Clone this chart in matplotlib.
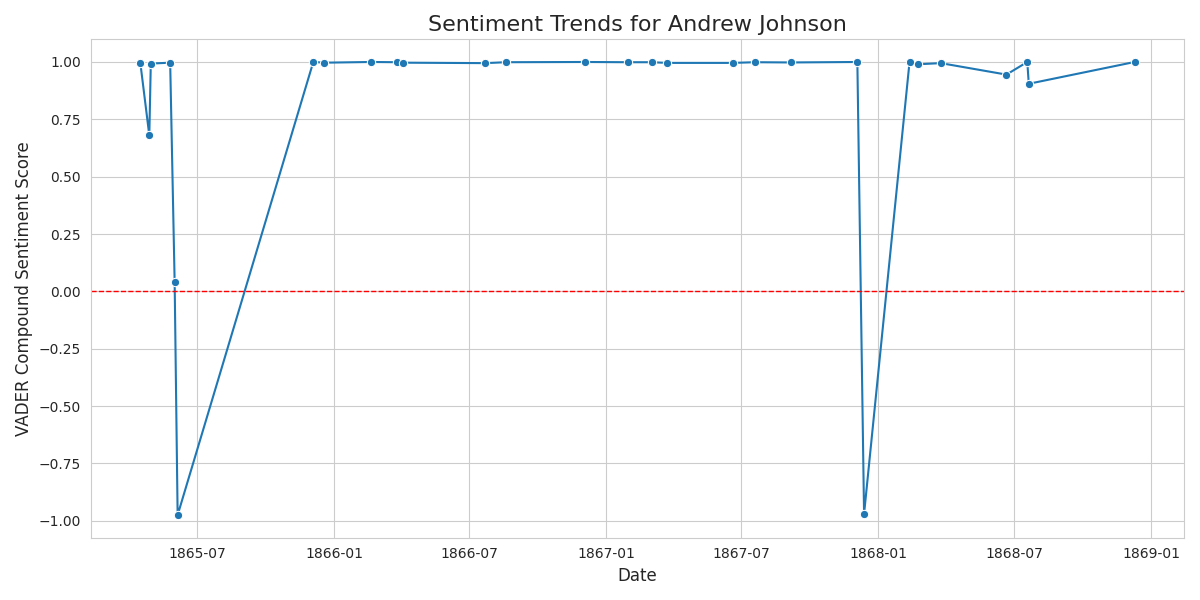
import pandas as pd
import matplotlib
matplotlib.use("Agg")
import matplotlib.pyplot as plt
import matplotlib.dates as mdates
import seaborn as sns

dates = ["1865-04-16", "1865-04-28", "1865-04-30", "1865-05-26", "1865-06-01", "1865-06-05",
         "1865-12-04", "1865-12-19", "1866-02-19", "1866-03-27", "1866-04-04", "1866-07-23",
         "1866-08-19", "1866-12-04", "1867-01-30", "1867-03-03", "1867-03-24", "1867-06-20",
         "1867-07-19", "1867-09-06", "1867-12-04", "1867-12-13", "1868-02-12", "1868-02-23",
         "1868-03-25", "1868-06-21", "1868-07-19", "1868-07-21", "1868-12-10"]
scores = [0.995, 0.68, 0.993, 0.997, 0.04, -0.975,
          1.0, 0.997, 1.0, 0.999, 0.997, 0.995,
          0.999, 1.0, 0.999, 0.999, 0.996, 0.996,
          0.999, 0.998, 1.0, -0.97, 1.0, 0.99,
          0.995, 0.945, 1.0, 0.905, 1.0]

df = pd.DataFrame({"date": pd.to_datetime(dates), "score": scores})

sns.set_style("whitegrid")
fig, ax = plt.subplots(figsize=(12, 6), dpi=100)
sns.lineplot(data=df, x="date", y="score", marker="o", ax=ax)
ax.axhline(0, color="red", linestyle="--", linewidth=1)
ax.set_title("Sentiment Trends for Andrew Johnson", fontsize=16)
ax.set_xlabel("Date", fontsize=12)
ax.set_ylabel("VADER Compound Sentiment Score", fontsize=12)
ax.xaxis.set_major_locator(mdates.MonthLocator(bymonth=[1, 7]))
ax.xaxis.set_major_formatter(mdates.DateFormatter("%Y-%m"))
plt.tight_layout()
plt.savefig("out.png")
